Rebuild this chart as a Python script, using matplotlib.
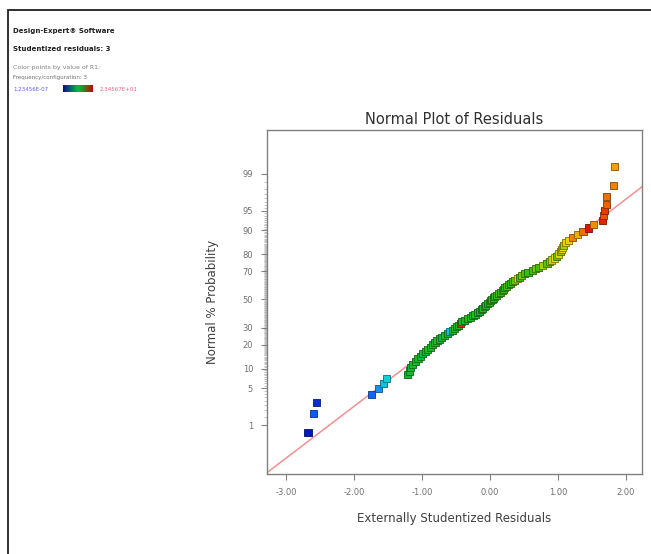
import matplotlib
matplotlib.use("Agg")
import matplotlib.pyplot as plt
from matplotlib.colors import LinearSegmentedColormap, to_rgb
from matplotlib.patches import Rectangle
from statistics import NormalDist
import numpy as np

# externally studentized residuals, sorted
residuals = [
    -2.68, -2.60, -2.56, -1.74, -1.64, -1.57, -1.52,
    -1.22, -1.19, -1.17, -1.14, -1.10, -1.06, -1.02, -0.99, -0.95, -0.92,
    -0.88, -0.84, -0.81, -0.78, -0.74, -0.71, -0.67, -0.62, -0.59, -0.55,
    -0.52, -0.49, -0.46,
    -0.44,
    -0.42, -0.38, -0.33, -0.29, -0.25, -0.22, -0.19, -0.16, -0.13, -0.11,
    -0.08, -0.06, -0.03, -0.01, 0.01, 0.03,
    0.05, 0.07, 0.10, 0.12, 0.15, 0.18, 0.20, 0.22, 0.24, 0.27, 0.30, 0.33, 0.36,
    0.40, 0.43, 0.46, 0.51, 0.56, 0.62, 0.67, 0.71, 0.77, 0.84,
    0.88, 0.91, 0.95, 0.98, 1.01, 1.04, 1.06, 1.07, 1.08, 1.11,
    1.16, 1.22, 1.29, 1.37, 1.45, 1.52, 1.66, 1.67, 1.69, 1.71, 1.72, 1.82, 1.83,
]

# value used to colour each point (0 = low, 1 = high)
color_values = [
    0.02, 0.14, 0.06, 0.16, 0.22, 0.28, 0.30,
    0.45, 0.46, 0.44, 0.47, 0.45, 0.48, 0.46, 0.44, 0.47, 0.49,
    0.45, 0.48, 0.46, 0.50, 0.47, 0.45, 0.48, 0.46, 0.28, 0.47,
    0.49, 0.46, 0.48,
    0.93,
    0.47, 0.45, 0.50, 0.48, 0.46, 0.49, 0.47, 0.45, 0.50, 0.48,
    0.52, 0.49, 0.47, 0.51, 0.50, 0.53,
    0.48, 0.52, 0.50, 0.55, 0.50, 0.58, 0.52, 0.50, 0.56, 0.53, 0.50, 0.55, 0.58,
    0.68, 0.54, 0.60, 0.56, 0.52, 0.55, 0.60, 0.54, 0.64, 0.58,
    0.60, 0.66, 0.70, 0.58, 0.68, 0.62, 0.72, 0.70, 0.64, 0.72,
    0.72, 0.82, 0.76, 0.84, 0.97, 0.80, 0.95, 0.88, 0.92, 0.86, 0.84, 0.82, 0.78,
]

# normal line (z = slope * residual + intercept)
line_slope = 0.959
line_intercept = -0.06

prob_ticks = [1, 5, 10, 20, 30, 50, 70, 80, 90, 95, 99]
x_ticks = [-3, -2, -1, 0, 1, 2]

nd = NormalDist()
n = len(residuals)
# Blom plotting positions -> normal quantiles
zpos = [nd.inv_cdf((i + 1 - 0.375) / (n + 0.25)) for i in range(n)]

cmap = LinearSegmentedColormap.from_list("de", [
    (0.0, "#0010b0"), (0.15, "#1060ff"), (0.3, "#10d0d8"),
    (0.45, "#10b830"), (0.57, "#50c000"), (0.7, "#f0e000"),
    (0.82, "#f08000"), (1.0, "#e00000")])

fig = plt.figure(figsize=(6.51, 5.54), dpi=100)

# outer frame
fig.patches.append(Rectangle((8 / 651, -0.2), 1.2, 1.2 - 10 / 554,
                             transform=fig.transFigure, fill=False,
                             edgecolor="#202020", linewidth=1.3))

ax = fig.add_axes([267 / 651, 1 - 474 / 554, (642 - 267) / 651, (474 - 130) / 554])

xlo, xhi = -3.284, 2.239
ax.set_xlim(xlo, xhi)
ax.set_ylim(-3.234, 3.141)

xl = np.array([xlo, xhi])
ax.plot(xl, line_slope * xl + line_intercept, color="#f29090", lw=1.1, zorder=1)

faces = cmap(np.array(color_values))
edges = [tuple(0.55 * c for c in to_rgb(f[:3])) for f in faces]
ax.scatter(residuals, zpos, marker="s", s=26, c=faces, edgecolors=edges,
           linewidths=0.6, zorder=3)

ax.set_xticks(x_ticks)
ax.set_xticklabels(["%.2f" % v for v in x_ticks])
ax.set_yticks([nd.inv_cdf(p / 100) for p in prob_ticks])
ax.set_yticklabels([str(p) for p in prob_ticks])
minor = [nd.inv_cdf(p / 200) for p in range(2, 199) if p / 2 not in prob_ticks]
ax.set_yticks(minor, minor=True)

for s in ax.spines.values():
    s.set_color("#808080")
    s.set_linewidth(1.0)
ax.tick_params(axis="both", which="major", length=4, width=0.8, color="#808080",
               labelsize=6, labelcolor="#707070", pad=6)
ax.tick_params(axis="y", which="minor", length=2.5, width=0.5, color="#a8a8a8")

ax.set_title("Normal Plot of Residuals", fontsize=10.5, color="#303030", pad=4)
ax.set_xlabel("Externally Studentized Residuals", fontsize=8.5, color="#404040", labelpad=11)
ax.set_ylabel("Normal % Probability", fontsize=8.5, color="#404040", labelpad=17)

# legend text top-left
fig.text(13 / 651, 1 - 31 / 554, "Design-Expert\u00ae Software", fontsize=5,
         fontweight="bold", color="#202020", va="center")
fig.text(13 / 651, 1 - 49 / 554, "Studentized residuals: 3", fontsize=5,
         fontweight="bold", color="#202020", va="center")
fig.text(13 / 651, 1 - 68 / 554, "Color points by value of R1:", fontsize=4.5,
         color="#808080", va="center")
fig.text(13 / 651, 1 - 77 / 554, "Frequency/configuration: 3", fontsize=4.0,
         color="#707070", va="center")
fig.text(13 / 651, 1 - 89 / 554, "1.23456E-07", fontsize=4.0,
         color="#6060e0", va="center")
fig.text(100 / 651, 1 - 89 / 554, "2.34567E+01", fontsize=4.0,
         color="#f06080", va="center")
cax = fig.add_axes([63 / 651, 1 - 92 / 554, 30 / 651, 7 / 554])
cax.imshow(np.linspace(0, 1, 64)[None, :], aspect="auto",
           cmap=LinearSegmentedColormap.from_list("bar", ["#001090", "#00c040", "#b01000"]))
cax.set_axis_off()

fig.savefig("out.png", dpi=100)
